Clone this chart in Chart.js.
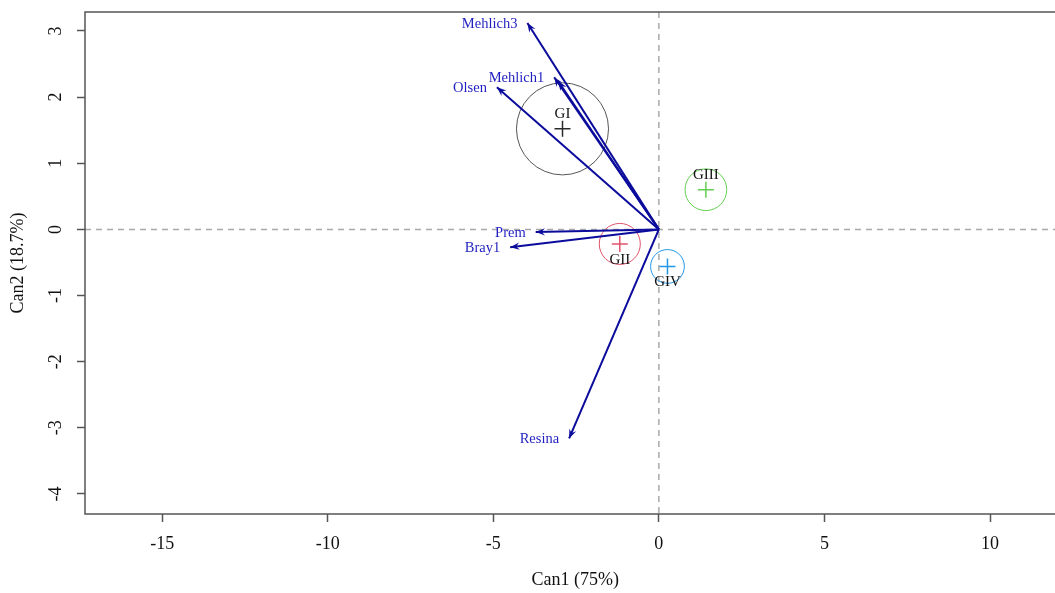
<!DOCTYPE html>
<html>
<head>
<meta charset="utf-8">
<title>Can1 vs Can2</title>
<script src="https://cdn.jsdelivr.net/npm/chart.js@4.4.1/dist/chart.umd.min.js"></script>
<style>
  html, body { margin: 0; padding: 0; background: #fff; overflow: hidden; }
  canvas { display: block; }
</style>
</head>
<body>
<canvas id="canChart" width="1075" height="593"></canvas>
<script>
// structure vectors (one line per variable, from the origin)
const vectorNames = ['Mehlich3', 'Mehlich1', '', 'Olsen', 'Prem', 'Bray1', 'Resina'];
const vectorCan1 = [-3.97, -3.16, -3.04, -4.89, -3.72, -4.49, -2.71];
const vectorCan2 = [3.12, 2.30, 2.24, 2.15, -0.04, -0.27, -3.16];

// group centroids and their circle radius (Can1 units)
const groupNames = ['GI', 'GII', 'GIII', 'GIV'];
const groupCan1 = [-2.91, -1.18, 1.42, 0.26];
const groupCan2 = [1.52, -0.22, 0.60, -0.56];
const groupRadius = [1.39, 0.62, 0.63, 0.51];
const groupColors = ['#2a2a2a', '#DF536B', '#61D04F', '#2297E6'];

const xTicks = [-15, -10, -5, 0, 5, 10];
const yTicks = [3, 2, 1, 0, -1, -2, -3, -4];

const serif = "'Liberation Serif', 'Times New Roman', serif";
const arrowColor = '#0B0B9C';
const labelColor = '#1F1FC0';

const datasets = [];
vectorNames.forEach(function (name, i) {
    datasets.push({
        label: name,
        data: [{ x: 0, y: 0 }, { x: vectorCan1[i], y: vectorCan2[i] }],
        showLine: true,
        borderColor: arrowColor,
        borderWidth: 2,
        pointRadius: 0
    });
});
datasets.push({
    label: 'centroids',
    data: groupCan1.map((v, i) => ({ x: v, y: groupCan2[i] })),
    pointStyle: 'cross',
    pointRadius: 8,
    pointBorderWidth: 1.5,
    pointBorderColor: groupColors
});
datasets.push({
    label: 'circles',
    data: groupCan1.map((v, i) => ({ x: v, y: groupCan2[i] })),
    pointStyle: 'circle',
    pointRadius: function (ctx) {
        const s = ctx.chart.scales.x;
        return Math.abs(s.getPixelForValue(groupRadius[ctx.dataIndex]) - s.getPixelForValue(0));
    },
    pointBackgroundColor: 'rgba(0,0,0,0)',
    pointBorderWidth: 1,
    pointBorderColor: groupColors.map((c, i) => i === 0 ? '#555' : c)
});

const decor = {
    id: 'decor',
    beforeDatasetsDraw(chart) {
        const { ctx, chartArea: a, scales: { x, y } } = chart;
        const x0 = x.getPixelForValue(0), y0 = y.getPixelForValue(0);
        ctx.save();
        ctx.strokeStyle = '#a9a9a9';
        ctx.lineWidth = 1.5;
        ctx.setLineDash([6, 5]);
        ctx.beginPath();
        ctx.moveTo(a.left, y0); ctx.lineTo(a.right, y0);
        ctx.moveTo(x0, a.top); ctx.lineTo(x0, a.bottom);
        ctx.stroke();
        ctx.restore();
    },
    afterDatasetsDraw(chart) {
        const { ctx, chartArea: a, scales: { x, y } } = chart;
        const x0 = x.getPixelForValue(0), y0 = y.getPixelForValue(0);
        ctx.save();

        // arrow heads + variable labels
        vectorNames.forEach(function (name, i) {
            const tx = x.getPixelForValue(vectorCan1[i]);
            const ty = y.getPixelForValue(vectorCan2[i]);
            const ang = Math.atan2(ty - y0, tx - x0);
            const len = 10, spread = 0.38;
            ctx.fillStyle = arrowColor;
            ctx.beginPath();
            ctx.moveTo(tx, ty);
            ctx.lineTo(tx - len * Math.cos(ang - spread), ty - len * Math.sin(ang - spread));
            ctx.lineTo(tx - len * 0.6 * Math.cos(ang), ty - len * 0.6 * Math.sin(ang));
            ctx.lineTo(tx - len * Math.cos(ang + spread), ty - len * Math.sin(ang + spread));
            ctx.closePath();
            ctx.fill();
            if (name) {
                ctx.font = '14.5px ' + serif;
                ctx.fillStyle = labelColor;
                ctx.textAlign = 'right';
                ctx.textBaseline = 'middle';
                ctx.fillText(name, tx - 10, ty + 1);
            }
        });

        // group labels, above the cross for positive Can2, below otherwise
        ctx.font = '15px ' + serif;
        ctx.fillStyle = '#111';
        ctx.textAlign = 'center';
        ctx.textBaseline = 'middle';
        groupNames.forEach(function (g, i) {
            const px = x.getPixelForValue(groupCan1[i]);
            const py = y.getPixelForValue(groupCan2[i]);
            ctx.fillText(g, px, groupCan2[i] > 0 ? py - 15 : py + 16);
        });

        // frame
        ctx.strokeStyle = '#555';
        ctx.lineWidth = 1.5;
        ctx.strokeRect(a.left, a.top, a.right - a.left, a.bottom - a.top);

        // rotated y tick labels, R style
        ctx.font = '18px ' + serif;
        ctx.fillStyle = '#111';
        yTicks.forEach(function (v) {
            ctx.save();
            ctx.translate(56, y.getPixelForValue(v));
            ctx.rotate(-Math.PI / 2);
            ctx.fillText(String(v), 0, 0);
            ctx.restore();
        });
        ctx.restore();
    }
};

new Chart(document.getElementById('canChart'), {
    type: 'scatter',
    data: { datasets: datasets },
    options: {
        responsive: false,
        animation: false,
        layout: { padding: { top: 12, right: 5, left: 0, bottom: 0 } },
        plugins: { legend: { display: false }, tooltip: { enabled: false } },
        scales: {
            x: {
                min: -17.33,
                max: 12.28,
                afterBuildTicks: s => { s.ticks = xTicks.map(v => ({ value: v })); },
                afterFit: s => { s.height = 79; s.paddingLeft = 0; s.paddingRight = 0; },
                border: { display: false },
                grid: { drawOnChartArea: false, drawTicks: true, tickLength: 8, tickColor: '#555', tickWidth: 1.5 },
                ticks: {
                    padding: 11,
                    color: '#111',
                    font: { family: serif, size: 18 },
                    callback: v => String(v)
                },
                title: {
                    display: true,
                    text: 'Can1 (75%)',
                    color: '#111',
                    font: { family: serif, size: 18 },
                    padding: { top: 0, bottom: 2 }
                }
            },
            y: {
                min: -4.303,
                max: 3.287,
                afterBuildTicks: s => { s.ticks = yTicks.map(v => ({ value: v })); },
                afterFit: s => { s.width = 85; s.paddingTop = 0; s.paddingBottom = 0; },
                border: { display: false },
                grid: { drawOnChartArea: false, drawTicks: true, tickLength: 8, tickColor: '#555', tickWidth: 1.5 },
                ticks: { display: false },
                title: {
                    display: true,
                    text: 'Can2 (18.7%)',
                    color: '#111',
                    font: { family: serif, size: 18 },
                    padding: { top: 7, bottom: 0 }
                }
            }
        }
    },
    plugins: [decor]
});
</script>
</body>
</html>
